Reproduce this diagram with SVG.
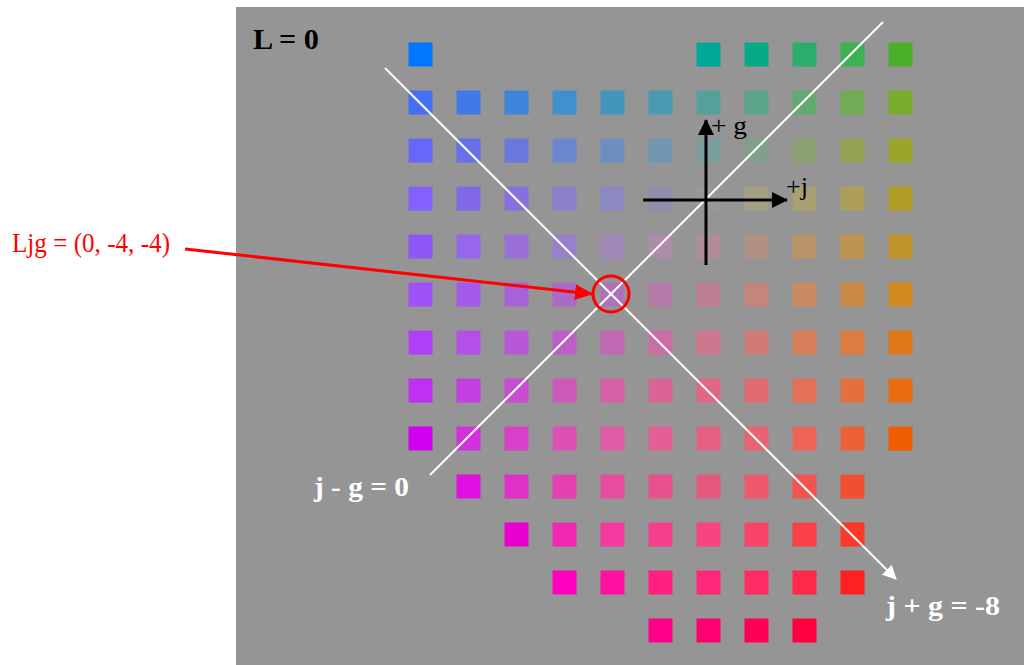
<svg xmlns="http://www.w3.org/2000/svg" width="1024" height="665" viewBox="0 0 1024 665">
<style>
.sq{stroke:none}
.wl{stroke:#ffffff;stroke-width:2;fill:none}
.ax{stroke:#000000;stroke-width:3;fill:none}
.wt{font-family:"Liberation Serif",serif;font-weight:bold;fill:#ffffff;font-size:28px}
.bt{font-family:"Liberation Serif",serif;fill:#000000;font-size:26px}
</style>
<defs>
<marker id="wArrow" viewBox="0 0 14 14" refX="13" refY="7" markerWidth="14" markerHeight="14" markerUnits="userSpaceOnUse" orient="auto"><path d="M0,0 L14,7 L0,14 Z" fill="#ffffff"/></marker>
<marker id="kArrow" viewBox="0 0 16 16" refX="15" refY="8" markerWidth="16" markerHeight="16" markerUnits="userSpaceOnUse" orient="auto"><path d="M0,0 L16,8 L0,16 Z" fill="#000000"/></marker>
<marker id="rArrow" viewBox="0 0 18 16" refX="17" refY="8" markerWidth="18" markerHeight="16" markerUnits="userSpaceOnUse" orient="auto"><path d="M0,0 L18,8 L0,16 Z" fill="#ff0000"/></marker>
</defs>
<rect x="236" y="7" width="788" height="658" fill="#959595"/>
<g id="grid">
<g transform="translate(408.5,42.5)">
<rect class="sq" x="0" y="0" width="24" height="24" fill="#0077FF"/>
<rect class="sq" x="288" y="0" width="24" height="24" fill="#00A89A"/>
<rect class="sq" x="336" y="0" width="24" height="24" fill="#06AA84"/>
<rect class="sq" x="384" y="0" width="24" height="24" fill="#2AAE6E"/>
<rect class="sq" x="432" y="0" width="24" height="24" fill="#3DB254"/>
<rect class="sq" x="480" y="0" width="24" height="24" fill="#4BAF2A"/>

<rect class="sq" x="0" y="48" width="24" height="24" fill="#4570F4"/>
<rect class="sq" x="48" y="48" width="24" height="24" fill="#4079E8"/>
<rect class="sq" x="96" y="48" width="24" height="24" fill="#3E85DC"/>
<rect class="sq" x="144" y="48" width="24" height="24" fill="#4090CE"/>
<rect class="sq" x="192" y="48" width="24" height="24" fill="#4495BC"/>
<rect class="sq" x="240" y="48" width="24" height="24" fill="#4A9AB0"/>
<rect class="sq" x="288" y="48" width="24" height="24" fill="#56A09A"/>
<rect class="sq" x="336" y="48" width="24" height="24" fill="#5CA588"/>
<rect class="sq" x="384" y="48" width="24" height="24" fill="#64AA70"/>
<rect class="sq" x="432" y="48" width="24" height="24" fill="#70AC55"/>
<rect class="sq" x="480" y="48" width="24" height="24" fill="#7AAC2C"/>

<rect class="sq" x="0" y="96" width="24" height="24" fill="#6868F8"/>
<rect class="sq" x="48" y="96" width="24" height="24" fill="#6670EA"/>
<rect class="sq" x="96" y="96" width="24" height="24" fill="#6878DC"/>
<rect class="sq" x="144" y="96" width="24" height="24" fill="#6A86CC"/>
<rect class="sq" x="192" y="96" width="24" height="24" fill="#6C8EC0"/>
<rect class="sq" x="240" y="96" width="24" height="24" fill="#7096B0"/>
<rect class="sq" x="288" y="96" width="24" height="24" fill="#7A9E9C"/>
<rect class="sq" x="336" y="96" width="24" height="24" fill="#80A08A"/>
<rect class="sq" x="384" y="96" width="24" height="24" fill="#8CA272"/>
<rect class="sq" x="432" y="96" width="24" height="24" fill="#94A455"/>
<rect class="sq" x="480" y="96" width="24" height="24" fill="#9CA42A"/>

<rect class="sq" x="0" y="144" width="24" height="24" fill="#8560FF"/>
<rect class="sq" x="48" y="144" width="24" height="24" fill="#8068E8"/>
<rect class="sq" x="96" y="144" width="24" height="24" fill="#8870DC"/>
<rect class="sq" x="144" y="144" width="24" height="24" fill="#8A80CC"/>
<rect class="sq" x="192" y="144" width="24" height="24" fill="#8C88C0"/>
<rect class="sq" x="240" y="144" width="24" height="24" fill="#8E8EAE"/>
<rect class="sq" x="288" y="144" width="24" height="24" fill="#989896"/>
<rect class="sq" x="336" y="144" width="24" height="24" fill="#A4A084"/>
<rect class="sq" x="384" y="144" width="24" height="24" fill="#A8A070"/>
<rect class="sq" x="432" y="144" width="24" height="24" fill="#ACA058"/>
<rect class="sq" x="480" y="144" width="24" height="24" fill="#B19E29"/>

<rect class="sq" x="0" y="192" width="24" height="24" fill="#8E58F8"/>
<rect class="sq" x="48" y="192" width="24" height="24" fill="#9468E8"/>
<rect class="sq" x="96" y="192" width="24" height="24" fill="#9870D8"/>
<rect class="sq" x="144" y="192" width="24" height="24" fill="#9A80C8"/>
<rect class="sq" x="192" y="192" width="24" height="24" fill="#A088B8"/>
<rect class="sq" x="240" y="192" width="24" height="24" fill="#AC8CA8"/>
<rect class="sq" x="288" y="192" width="24" height="24" fill="#B08C98"/>
<rect class="sq" x="336" y="192" width="24" height="24" fill="#B09080"/>
<rect class="sq" x="384" y="192" width="24" height="24" fill="#B89468"/>
<rect class="sq" x="432" y="192" width="24" height="24" fill="#BC9450"/>
<rect class="sq" x="480" y="192" width="24" height="24" fill="#C09428"/>

<rect class="sq" x="0" y="240" width="24" height="24" fill="#A050F8"/>
<rect class="sq" x="48" y="240" width="24" height="24" fill="#A45AE8"/>
<rect class="sq" x="96" y="240" width="24" height="24" fill="#A862D8"/>
<rect class="sq" x="144" y="240" width="24" height="24" fill="#AA6AC8"/>
<rect class="sq" x="192" y="240" width="24" height="24" fill="#AE72B8"/>
<rect class="sq" x="240" y="240" width="24" height="24" fill="#B47AA8"/>
<rect class="sq" x="288" y="240" width="24" height="24" fill="#BC7E94"/>
<rect class="sq" x="336" y="240" width="24" height="24" fill="#C4867C"/>
<rect class="sq" x="384" y="240" width="24" height="24" fill="#C88A60"/>
<rect class="sq" x="432" y="240" width="24" height="24" fill="#CC8A48"/>
<rect class="sq" x="480" y="240" width="24" height="24" fill="#D08A20"/>

<rect class="sq" x="0" y="288" width="24" height="24" fill="#B040F8"/>
<rect class="sq" x="48" y="288" width="24" height="24" fill="#B450E8"/>
<rect class="sq" x="96" y="288" width="24" height="24" fill="#B858D8"/>
<rect class="sq" x="144" y="288" width="24" height="24" fill="#BC60C8"/>
<rect class="sq" x="192" y="288" width="24" height="24" fill="#C068B4"/>
<rect class="sq" x="240" y="288" width="24" height="24" fill="#C870A4"/>
<rect class="sq" x="288" y="288" width="24" height="24" fill="#CC788E"/>
<rect class="sq" x="336" y="288" width="24" height="24" fill="#D07C74"/>
<rect class="sq" x="384" y="288" width="24" height="24" fill="#D87E5A"/>
<rect class="sq" x="432" y="288" width="24" height="24" fill="#DC7C40"/>
<rect class="sq" x="480" y="288" width="24" height="24" fill="#E07818"/>

<rect class="sq" x="0" y="336" width="24" height="24" fill="#C030F0"/>
<rect class="sq" x="48" y="336" width="24" height="24" fill="#C440E0"/>
<rect class="sq" x="96" y="336" width="24" height="24" fill="#C84CD0"/>
<rect class="sq" x="144" y="336" width="24" height="24" fill="#CC58B8"/>
<rect class="sq" x="192" y="336" width="24" height="24" fill="#D460A8"/>
<rect class="sq" x="240" y="336" width="24" height="24" fill="#D86498"/>
<rect class="sq" x="288" y="336" width="24" height="24" fill="#E06884"/>
<rect class="sq" x="336" y="336" width="24" height="24" fill="#E06C70"/>
<rect class="sq" x="384" y="336" width="24" height="24" fill="#E47058"/>
<rect class="sq" x="432" y="336" width="24" height="24" fill="#E47040"/>
<rect class="sq" x="480" y="336" width="24" height="24" fill="#E86C10"/>

<rect class="sq" x="0" y="384" width="24" height="24" fill="#D000F0"/>
<rect class="sq" x="48" y="384" width="24" height="24" fill="#D430E0"/>
<rect class="sq" x="96" y="384" width="24" height="24" fill="#D840C8"/>
<rect class="sq" x="144" y="384" width="24" height="24" fill="#DC50B4"/>
<rect class="sq" x="192" y="384" width="24" height="24" fill="#E05CA8"/>
<rect class="sq" x="240" y="384" width="24" height="24" fill="#E46094"/>
<rect class="sq" x="288" y="384" width="24" height="24" fill="#E46080"/>
<rect class="sq" x="336" y="384" width="24" height="24" fill="#E86470"/>
<rect class="sq" x="384" y="384" width="24" height="24" fill="#EC6458"/>
<rect class="sq" x="432" y="384" width="24" height="24" fill="#EC6038"/>
<rect class="sq" x="480" y="384" width="24" height="24" fill="#F05C00"/>

<rect class="sq" x="48" y="432" width="24" height="24" fill="#E010E0"/>
<rect class="sq" x="96" y="432" width="24" height="24" fill="#E030C8"/>
<rect class="sq" x="144" y="432" width="24" height="24" fill="#E440B0"/>
<rect class="sq" x="192" y="432" width="24" height="24" fill="#E84CA0"/>
<rect class="sq" x="240" y="432" width="24" height="24" fill="#E85090"/>
<rect class="sq" x="288" y="432" width="24" height="24" fill="#E45880"/>
<rect class="sq" x="336" y="432" width="24" height="24" fill="#EC5A6C"/>
<rect class="sq" x="384" y="432" width="24" height="24" fill="#F05550"/>
<rect class="sq" x="432" y="432" width="24" height="24" fill="#F05030"/>

<rect class="sq" x="96" y="480" width="24" height="24" fill="#E800D0"/>
<rect class="sq" x="144" y="480" width="24" height="24" fill="#F028B4"/>
<rect class="sq" x="192" y="480" width="24" height="24" fill="#F43AA0"/>
<rect class="sq" x="240" y="480" width="24" height="24" fill="#F4408C"/>
<rect class="sq" x="288" y="480" width="24" height="24" fill="#F8447E"/>
<rect class="sq" x="336" y="480" width="24" height="24" fill="#F84466"/>
<rect class="sq" x="384" y="480" width="24" height="24" fill="#FA4048"/>
<rect class="sq" x="432" y="480" width="24" height="24" fill="#FC3828"/>

<rect class="sq" x="144" y="528" width="24" height="24" fill="#FF00C0"/>
<rect class="sq" x="192" y="528" width="24" height="24" fill="#FF10A0"/>
<rect class="sq" x="240" y="528" width="24" height="24" fill="#FF2080"/>
<rect class="sq" x="288" y="528" width="24" height="24" fill="#FF2878"/>
<rect class="sq" x="336" y="528" width="24" height="24" fill="#FF2C64"/>
<rect class="sq" x="384" y="528" width="24" height="24" fill="#FF2848"/>
<rect class="sq" x="432" y="528" width="24" height="24" fill="#FF2020"/>

<rect class="sq" x="240" y="576" width="24" height="24" fill="#FF0088"/>
<rect class="sq" x="288" y="576" width="24" height="24" fill="#FF0070"/>
<rect class="sq" x="336" y="576" width="24" height="24" fill="#FF0058"/>
<rect class="sq" x="384" y="576" width="24" height="24" fill="#FF0040"/>
</g>
</g>
<g id="connectors">
<line id="line-jmg" class="wl" x1="430" y1="475" x2="883" y2="22"/>
<line id="line-jpg" class="wl" x1="385" y1="68" x2="896" y2="579" marker-end="url(#wArrow)"/>
<line id="axis-g" class="ax" x1="706" y1="265" x2="706" y2="120" marker-end="url(#kArrow)"/>
<line id="axis-j" class="ax" x1="643" y1="200" x2="787" y2="200" marker-end="url(#kArrow)"/>
<line id="pointer" stroke="#ff0000" stroke-width="3" x1="185" y1="249" x2="592" y2="294" marker-end="url(#rArrow)"/>
</g>
<g id="origin">
<circle cx="611" cy="294" r="18" fill="none" stroke="#ff0000" stroke-width="3"/>
</g>
<g id="labels">
<text id="label-L" x="253" y="49" font-family="'Liberation Serif',serif" font-weight="bold" font-size="29" fill="#000000" textLength="66" lengthAdjust="spacingAndGlyphs">L = 0</text>
<text id="label-g" class="bt" x="711" y="134" textLength="36" lengthAdjust="spacingAndGlyphs">+ g</text>
<text id="label-j" class="bt" x="786" y="195" textLength="22" lengthAdjust="spacingAndGlyphs">+j</text>
<text id="label-jmg" class="wt" x="314" y="496" textLength="95" lengthAdjust="spacingAndGlyphs">j - g = 0</text>
<text id="label-jpg" class="wt" x="886" y="615" textLength="114" lengthAdjust="spacingAndGlyphs">j + g = -8</text>
<text id="label-Ljg" x="12" y="252" font-family="'Liberation Serif',serif" font-size="27" fill="#ff0000" textLength="158" lengthAdjust="spacingAndGlyphs">Ljg = (0, -4, -4)</text>
</g>
</svg>
